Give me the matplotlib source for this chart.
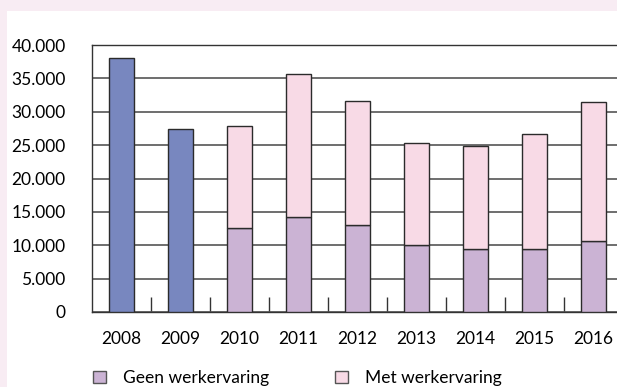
import matplotlib
matplotlib.use("Agg")
import matplotlib.pyplot as plt
from matplotlib.patches import Rectangle, Patch
import numpy as np

years = ["2008", "2009", "2010", "2011", "2012", "2013", "2014", "2015", "2016"]
totaal_oud = [38000, 27400, np.nan, np.nan, np.nan, np.nan, np.nan, np.nan, np.nan]
geen_werkervaring = [np.nan, np.nan, 12600, 14300, 13000, 10000, 9400, 9400, 10700]
totaal = [np.nan, np.nan, 27800, 35600, 31600, 25300, 24900, 26700, 31400]
yticks = [0, 5000, 10000, 15000, 20000, 25000, 30000, 35000, 40000]
ytick_labels = ["0", "5.000", "10.000", "15.000", "20.000", "25.000", "30.000", "35.000", "40.000"]
legend_labels = ["Geen werkervaring", "Met werkervaring"]

met_werkervaring = [t - g for t, g in zip(totaal, geen_werkervaring)]

plt.rcParams['font.family'] = ['Lato', 'DejaVu Sans']

W, H = 617, 387
fig = plt.figure(figsize=(W / 100, H / 100), dpi=100)
fig.patch.set_facecolor("#F8ECF3")
fig.add_artist(Rectangle((7 / W, 0), 1, (H - 11) / H, transform=fig.transFigure,
                         facecolor="white", edgecolor="none", zorder=0))

left, top, bottom = 92, 45, 312
ax = fig.add_axes([left / W, (H - bottom) / H, 531 / W, (bottom - top) / H])
ax.set_facecolor("white")

x = np.arange(len(years))
bw = 0.44
edge = "#2b2b2b"
c_blue = "#7887BF"
c_purple = "#CBB3D4"
c_pink = "#F8DAE6"

ax.bar(x, totaal_oud, width=bw, color=c_blue, edgecolor=edge, linewidth=1.0, zorder=3)
ax.bar(x, geen_werkervaring, width=bw, color=c_purple, edgecolor=edge, linewidth=1.0, zorder=3)
ax.bar(x, met_werkervaring, width=bw, bottom=geen_werkervaring, color=c_pink,
       edgecolor=edge, linewidth=1.0, zorder=3)

ax.set_xlim(-0.5, len(years) - 0.5)
ax.set_ylim(0, 40000)
ax.set_yticks(yticks)
ax.set_yticklabels(ytick_labels, fontsize=12.5)
ax.yaxis.grid(True, color="#555555", linewidth=1.2, zorder=1)
ax.set_axisbelow(True)
ax.tick_params(axis="y", length=0, pad=19)

ax.set_xticks(x)
ax.set_xticklabels(years, fontsize=12.5)
ax.tick_params(axis="x", which="major", length=0, pad=14)
ax.set_xticks(np.arange(0.5, len(years) - 0.5, 1.0), minor=True)
ax.tick_params(axis="x", which="minor", direction="in", length=11, width=1.0, color="#333333")

for s in ["left", "top", "bottom", "right"]:
    ax.spines[s].set_color("#333333")
    ax.spines[s].set_linewidth(1.0)

handles = [Patch(facecolor=c_purple, edgecolor="#555555", linewidth=1.0),
           Patch(facecolor=c_pink, edgecolor="#555555", linewidth=1.0)]
leg_x = [93, 335]
for h, lab, lx in zip(handles, legend_labels, leg_x):
    fig.legend([h], [lab], loc="center left", bbox_to_anchor=(lx / W, 1 - 378 / H),
               frameon=False, fontsize=12.5, handlelength=0.75, handleheight=0.75,
               handletextpad=0.95, borderaxespad=0, borderpad=0)

fig.savefig("out.png", dpi=100, facecolor=fig.get_facecolor())
